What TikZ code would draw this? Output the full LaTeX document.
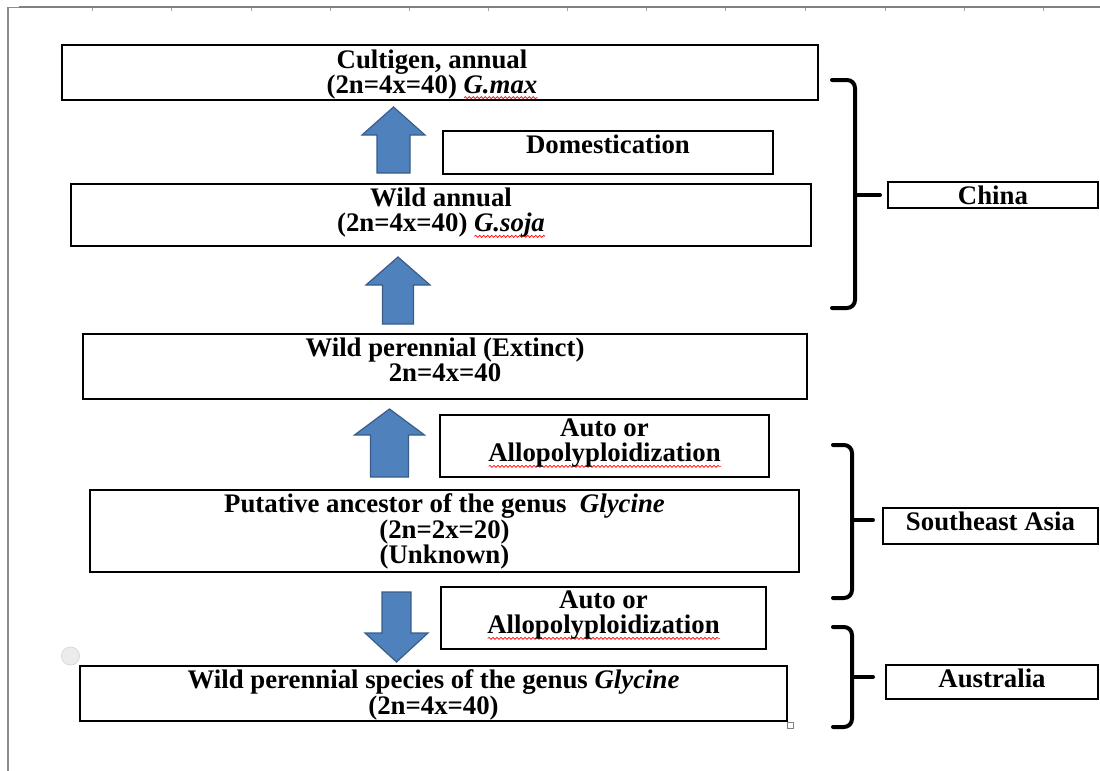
\documentclass[tikz,border=0pt]{standalone}
\usepackage{fontspec}
\setmainfont{Liberation Serif}
\usetikzlibrary{positioning,decorations.pathmorphing}
\definecolor{azulflecha}{RGB}{79,129,189}
\definecolor{bordeflecha}{RGB}{56,93,138}
\newlength{\anchoonda}
\newcommand{\ondulado}[1]{\settowidth{\anchoonda}{#1}\rlap{\tikz[baseline=0pt,x=1pt,y=1pt]\draw[onda] (0,-2.2) -- (\anchoonda,-2.2);}#1}
% flecha de bloque: centro x, cola, base de la punta, punta, semiancho punta, semiancho cuerpo
\newcommand{\flecha}[6]{\draw[flecha] (#1-#6,#2) -- (#1-#6,#3) -- (#1-#5,#3) -- (#1,#4) -- (#1+#5,#3) -- (#1+#6,#3) -- (#1+#6,#2) -- cycle;}
\tikzstyle{caja} = [draw=black, line width=0.7pt, rectangle, inner sep=0pt]
\tikzstyle{rotulo} = [font=\fontsize{13.4}{12.6}\selectfont\bfseries, align=center, inner sep=0pt, anchor=north]
\tikzstyle{flecha} = [fill=azulflecha, draw=bordeflecha, line width=0.6pt, line join=miter]
\tikzstyle{llave} = [line width=2pt, rounded corners=4pt, line cap=round]
\tikzstyle{regla} = [draw=gray, line width=1.2pt]
\tikzstyle{onda} = [red, line width=0.35pt, decorate, decoration={snake, amplitude=0.5pt, segment length=2pt}]

\begin{document}
\begin{tikzpicture}[x=0.5pt, y=-0.5pt]
\useasboundingbox (0,0) rectangle (1100,771);
% marco de la pagina
\draw[regla] (19,7) -- (1100,7);
\draw[gray!90, line width=0.5pt] (8,7) -- (19,7);
\draw[gray!90, line width=0.6pt] (8,7) -- (8,771);
\foreach \x in {92,171,251,330,409,488,567,646,725,805,885,964,1043}
  \draw[gray!70, line width=0.4pt] (\x,8) -- (\x,11);

% cajas de la columna central
\node[caja, minimum width=378pt, minimum height=27.5pt] (cultigen) at (440,72.5) {};
\node[rotulo] (t-cultigen) at ([yshift=-2.4pt,xshift=-4pt]cultigen.north) {Cultigen, annual\\(2n=4x=40) \textit{\ondulado{G.max}}};
\node[caja, minimum width=165pt, minimum height=21.5pt] (domest) at (608,152.5) {};
\node[rotulo] (t-domest) at ([yshift=-2.2pt]domest.north) {Domestication};
\node[caja, minimum width=370pt, minimum height=31pt] (soja) at (441,215) {};
\node[rotulo] (t-soja) at ([yshift=-2.2pt]soja.north) {Wild annual\\(2n=4x=40) \textit{\ondulado{G.soja}}};
\node[caja, minimum width=362pt, minimum height=32.5pt] (extinto) at (445,366.5) {};
\node[rotulo] (t-extinto) at ([yshift=-2.2pt]extinto.north) {Wild perennial (Extinct)\\2n=4x=40};
\node[caja, minimum width=164.5pt, minimum height=31pt] (poli1) at (604.5,446) {};
\node[rotulo] (t-poli1) at ([yshift=-2.2pt]poli1.north) {Auto or\\\ondulado{Allopolyploidization}};
\node[caja, minimum width=354.5pt, minimum height=41pt] (ancestro) at (444.5,531) {};
\node[rotulo] (t-ancestro) at ([yshift=-2.2pt]ancestro.north) {Putative ancestor of the genus \ \textit{Glycine}\\(2n=2x=20)\\(Unknown)};
\node[caja, minimum width=162.5pt, minimum height=31pt] (poli2) at (603.5,618) {};
\node[rotulo] (t-poli2) at ([yshift=-2.2pt]poli2.north) {Auto or\\\ondulado{Allopolyploidization}};
\node[caja, minimum width=353.5pt, minimum height=27.5pt] (glycine) at (433.5,693.5) {};
\node[rotulo] (t-glycine) at ([yshift=-2.2pt]glycine.north) {Wild perennial species of the genus \textit{Glycine}\\(2n=4x=40)};

% flechas
\flecha{393.5}{173}{135}{107}{31.5}{16.5}
\flecha{398}{324}{285}{257}{32}{15.5}
\flecha{389.5}{477}{435}{409}{35}{19}
\flecha{396.5}{592}{633}{662}{31.5}{14.5}

% regiones
\node[caja, minimum width=105pt, minimum height=13pt] (china) at (993,195) {};
\node[rotulo] (t-china) at ([yshift=-2.2pt]china.north) {China};
\node[caja, minimum width=107.5pt, minimum height=18pt] (asia) at (990.5,526) {};
\node[rotulo] (t-asia) at ([yshift=-2.2pt]asia.north) {Southeast Asia};
\node[caja, minimum width=106pt, minimum height=17pt] (australia) at (992,682) {};
\node[rotulo] (t-australia) at ([yshift=-2.2pt]australia.north) {Australia};

% llaves
\draw[llave] (832,80) -- (855,80) -- (855,308) -- (832,308);
\draw[llave, rounded corners=0pt] (855,195) -- (880,195);
\draw[llave] (833,445) -- (852,445) -- (852,598) -- (833,598);
\draw[llave, rounded corners=0pt] (852,520) -- (873,520);
\draw[llave] (833,627) -- (852,627) -- (852,727) -- (833,727);
\draw[llave, rounded corners=0pt] (852,677) -- (873,677);

% marcas sueltas
\filldraw[fill=gray!15, draw=gray!30] (70.5,656) circle (4.5pt);
\draw[gray, fill=white, line width=0.4pt] (787.5,722) rectangle (793.5,728);
\end{tikzpicture}
\end{document}
